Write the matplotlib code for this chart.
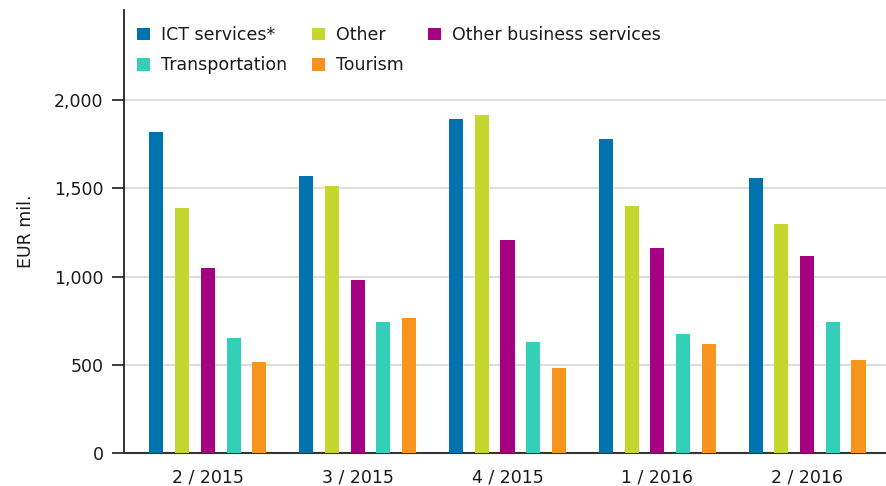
import numpy as np
import matplotlib.pyplot as plt

# --- DATA ---
quarters = ['2 / 2015', '3 / 2015', '4 / 2015', '1 / 2016', '2 / 2016']
ict = [1821, 1572, 1891, 1778, 1560]
other = [1390, 1515, 1914, 1401, 1299]
other_business = [1047, 979, 1206, 1163, 1119]
transportation = [651, 742, 627, 674, 742]
tourism = [513, 763, 481, 617, 526]

series = [
    ('ICT services*', ict, '#0072b0'),
    ('Other', other, '#c3d72f'),
    ('Other business services', other_business, '#a50082'),
    ('Transportation', transportation, '#34cfb9'),
    ('Tourism', tourism, '#f7941d'),
]

plt.rcParams['font.family'] = 'DejaVu Sans'
FS = 12.5
TXT = '#1a1a1a'

fig = plt.figure(figsize=(8.86, 4.86), dpi=100)
ax = fig.add_axes([124 / 886, 33 / 486, 762 / 886, 443 / 486])

x = np.arange(len(quarters))
step = 0.1717
width = 0.094
bars = []
for i, (name, vals, col) in enumerate(series):
    b = ax.bar(x + (i - 2) * step, vals, width, color=col, label=name, zorder=3)
    bars.append(b)

ax.set_xlim(-0.56, 4.527)
ax.set_ylim(0, 2510)
ax.set_yticks([0, 500, 1000, 1500, 2000])
ax.set_yticklabels(['0', '500', '1,000', '1,500', '2,000'])
ax.set_xticks(x)
ax.set_xticklabels(quarters)
ax.tick_params(axis='x', length=0, pad=11, labelsize=FS, colors=TXT)
ax.tick_params(axis='y', length=8.6, width=1.2, pad=6, labelsize=FS, colors=TXT)
ax.set_ylabel('EUR mil.', fontsize=FS, color=TXT, labelpad=14)

ax.grid(axis='y', color='#dddddd', lw=1.5, zorder=0)
for s in ['top', 'right']:
    ax.spines[s].set_visible(False)
ax.spines['left'].set_linewidth(1.3)
ax.spines['bottom'].set_linewidth(1.5)
ax.spines['left'].set_color('#222222')
ax.spines['bottom'].set_color('#333333')

# legend: row-wise order -> reorder for column filling
order = [0, 3, 1, 4, 2]
leg = ax.legend([bars[i] for i in order], [series[i][0] for i in order],
                ncol=3, loc='upper left', bbox_to_anchor=(-0.004, 1.0),
                frameon=False, fontsize=FS, handlelength=0.75, handleheight=0.75,
                handletextpad=0.65, columnspacing=1.4, labelspacing=0.72,
                borderaxespad=0.62, borderpad=0.3)
for t in leg.get_texts():
    t.set_color(TXT)

fig.savefig('out.png', dpi=100)
